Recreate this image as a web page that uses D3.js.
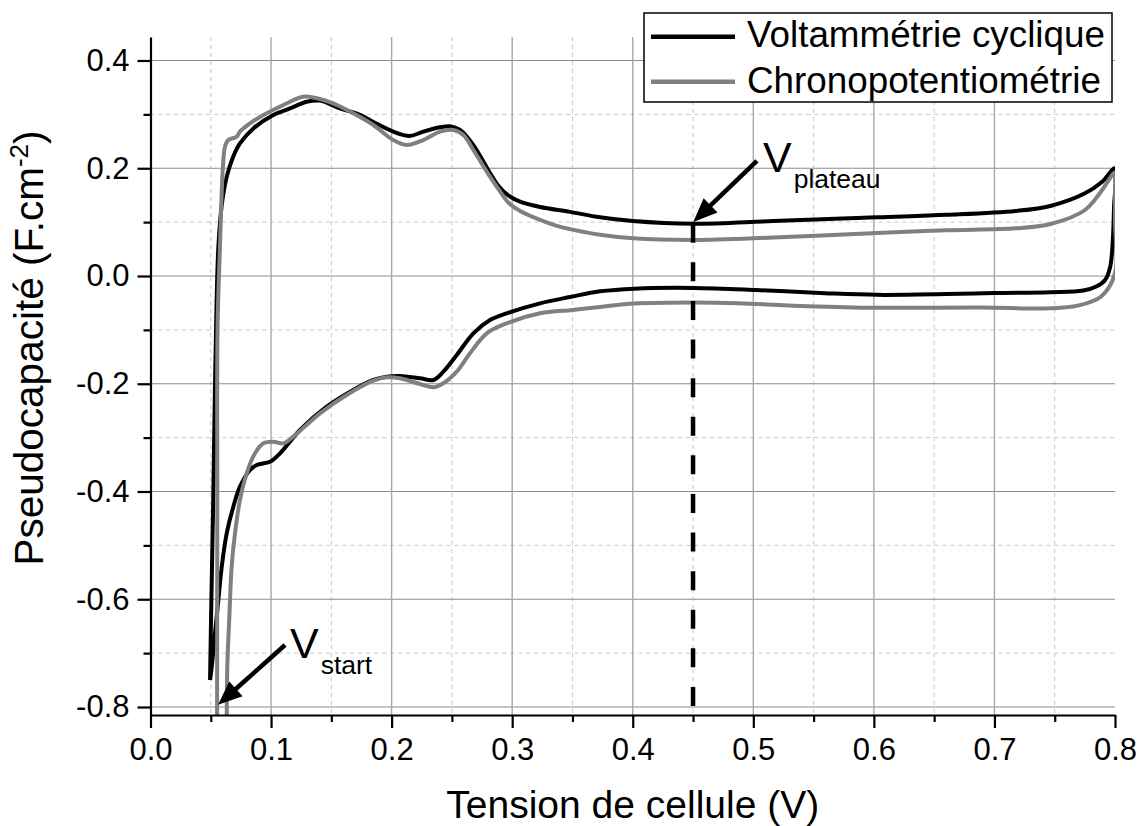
<!DOCTYPE html>
<html><head><meta charset="utf-8">
<script src="https://cdn.jsdelivr.net/npm/d3@7"></script>
<style>
body{margin:0;background:#fff}
svg{display:block}
text{font-family:"Liberation Sans",Arial,Helvetica,sans-serif;fill:#000}
</style>
</head><body>
<svg id="chart" width="1143" height="826"></svg>
<script>
// ---------- data ----------
const xMajorTicks = [0, 0.1, 0.2, 0.3, 0.4, 0.5, 0.6, 0.7, 0.8];
const xTickLabels = ["0.0","0.1","0.2","0.3","0.4","0.5","0.6","0.7","0.8"];
const xMinorTicks = [0.05, 0.15, 0.25, 0.35, 0.45, 0.55, 0.65, 0.75];
const yMajorTicks = [-0.8, -0.6, -0.4, -0.2, 0, 0.2, 0.4];
const yTickLabels = ["-0.8","-0.6","-0.4","-0.2","0.0","0.2","0.4"];
const yMinorTicks = [-0.7, -0.5, -0.3, -0.1, 0.1, 0.3];

const seriesNames = ["Voltammétrie cyclique", "Chronopotentiométrie"];

// Voltammétrie cyclique loop: [tension (V), pseudocapacité (F.cm-2)]
const cvLoop = [
 [0.0494,-0.750],[0.0505,-0.600],[0.0520,-0.420],[0.0535,-0.200],[0.0548,-0.050],
 [0.0563,0.054],[0.0590,0.130],[0.0632,0.184],[0.0685,0.221],[0.0742,0.246],
 [0.0853,0.274],[0.1019,0.299],[0.1157,0.311],[0.1295,0.3235],[0.1405,0.3255],
 [0.1572,0.311],[0.1738,0.299],[0.1848,0.286],[0.2014,0.268],[0.2152,0.260],
 [0.2263,0.268],[0.2401,0.276],[0.2484,0.278],[0.2567,0.271],[0.2678,0.243],
 [0.2816,0.191],[0.2890,0.166],[0.2970,0.149],[0.3065,0.138],[0.3231,0.128],
 [0.3480,0.119],[0.3728,0.109],[0.4000,0.102],[0.4504,0.097],[0.5165,0.1020],
 [0.6027,0.109],[0.6602,0.1135],[0.7176,0.1207],[0.7464,0.130],[0.7751,0.1535],
 [0.7894,0.175],[0.8000,0.1999],
 [0.7992,0.129],[0.7982,0.067],[0.7960,0.017],[0.7918,-0.0074],[0.7849,-0.019],
 [0.7737,-0.027],[0.7460,-0.030],[0.7000,-0.0315],[0.6602,-0.0335],[0.6027,-0.0350],
 [0.5595,-0.032],[0.5022,-0.026],[0.4504,-0.0222],[0.4015,-0.0235],[0.3728,-0.0285],
 [0.3480,-0.039],[0.3231,-0.0507],[0.2954,-0.0693],[0.2816,-0.0817],[0.2678,-0.1064],
 [0.2540,-0.1466],[0.2429,-0.1776],[0.2346,-0.193],[0.2235,-0.1899],[0.2069,-0.1856],
 [0.1959,-0.1869],[0.1848,-0.193],[0.1682,-0.2116],[0.1462,-0.2426],[0.1240,-0.2858],
 [0.1074,-0.3291],[0.0991,-0.3447],[0.0881,-0.3508],[0.0825,-0.3601],[0.0742,-0.3911],
 [0.0687,-0.4282],[0.0632,-0.4776],[0.0591,-0.5396],[0.0563,-0.6014],[0.0535,-0.6632],
 [0.0508,-0.7252],[0.0494,-0.750]
];

// Chronopotentiométrie loop
const cpLoop = [
 [0.0552,-0.860],[0.0554,-0.420],[0.0556,-0.100],[0.0576,0.054],[0.0600,0.200],
 [0.0618,0.240],[0.0645,0.2524],[0.0715,0.2586],[0.0742,0.268],[0.0825,0.2834],
 [0.0964,0.302],[0.1102,0.3174],[0.1267,0.3328],[0.1379,0.3298],[0.1516,0.3206],
 [0.1682,0.302],[0.1848,0.2803],[0.2014,0.2524],[0.2125,0.2432],[0.2263,0.2524],
 [0.2401,0.268],[0.2512,0.271],[0.2595,0.2617],[0.2678,0.2339],[0.2816,0.1843],
 [0.2890,0.160],[0.2970,0.136],[0.3070,0.120],[0.3231,0.104],[0.3370,0.093],
 [0.3500,0.086],[0.3728,0.0765],[0.4000,0.070],[0.4504,0.0668],[0.5165,0.0715],
 [0.6027,0.0800],[0.6602,0.0850],[0.7176,0.0885],[0.7464,0.0965],[0.7751,0.1225],
 [0.7949,0.178],[0.7986,0.190],[0.8000,0.100],
 [0.8000,0.005],[0.7885,-0.038],[0.7690,-0.055],[0.7460,-0.060],[0.6889,-0.0585],
 [0.6027,-0.059],[0.5452,-0.056],[0.4878,-0.0505],[0.4504,-0.049],[0.4015,-0.0510],
 [0.3728,-0.0575],[0.3500,-0.063],[0.3231,-0.0693],[0.2954,-0.0879],[0.2789,-0.1064],
 [0.2650,-0.1435],[0.2540,-0.1776],[0.2429,-0.1992],[0.2346,-0.2066],[0.2235,-0.2005],
 [0.2069,-0.1899],[0.1959,-0.188],[0.1848,-0.1943],[0.1627,-0.2209],[0.1406,-0.2549],
 [0.1184,-0.2983],[0.1102,-0.3106],[0.1019,-0.3075],[0.0936,-0.3106],[0.0867,-0.3291],
 [0.0798,-0.3662],[0.0742,-0.4158],[0.0701,-0.4776],[0.0673,-0.5396],[0.0654,-0.6324],
 [0.0637,-0.7252],[0.0632,-0.860]
];

// V plateau marker (dashed line)
const plateauV = 0.45;
const plateauRange = [0.097, -0.8];

// annotations: label, subscript, arrow tail, arrow tip, text anchor (data units)
const annoLabels = ["V", "V"];
const annoSubs = ["plateau", "start"];
const annoTails = [[0.503, 0.2135], [0.1116, -0.685]];
const annoTips = [[0.4502, 0.1002], [0.0560, -0.796]];
const annoText = [[0.508, 0.193], [0.1157, -0.709]];

// ---------- layout ----------
const plotLeft = 150.5, plotRight = 1115, plotTop = 37, plotBottom = 715;
const svg = d3.select("#chart");
const x = d3.scaleLinear().domain([0, 0.8]).range([plotLeft, plotRight]);
const y = d3.scaleLinear().domain([-0.8, 0.4]).range([707, 60.5]);

const fontFam = "'Liberation Sans',Arial,Helvetica,sans-serif";

svg.append("defs").append("clipPath").attr("id","plotclip")
  .append("rect").attr("x",plotLeft).attr("y",plotTop).attr("width",plotRight-plotLeft).attr("height",plotBottom-plotTop);

// grid
const grid = svg.append("g");
grid.selectAll(".hmin").data(yMinorTicks).join("line")
  .attr("x1",plotLeft).attr("x2",plotRight).attr("y1",d=>y(d)).attr("y2",d=>y(d))
  .attr("stroke","#c8c8c8").attr("stroke-width",1).attr("stroke-dasharray","4,4");
grid.selectAll(".vmin").data(xMinorTicks).join("line")
  .attr("x1",d=>x(d)).attr("x2",d=>x(d)).attr("y1",plotTop).attr("y2",plotBottom)
  .attr("stroke","#c8c8c8").attr("stroke-width",1).attr("stroke-dasharray","4,4");
grid.selectAll(".hmaj").data(yMajorTicks).join("line")
  .attr("x1",plotLeft).attr("x2",plotRight).attr("y1",d=>y(d)).attr("y2",d=>y(d))
  .attr("stroke","#8c8c8c").attr("stroke-width",1.2);
grid.selectAll(".vmaj").data(xMajorTicks.filter(d=>d>0 && d<0.8)).join("line")
  .attr("x1",d=>x(d)).attr("x2",d=>x(d)).attr("y1",plotTop).attr("y2",plotBottom)
  .attr("stroke","#a8a8a8").attr("stroke-width",1.4);

// curves
const line = d3.line().x(d=>x(d[0])).y(d=>y(d[1])).curve(d3.curveCatmullRom.alpha(0.5));
const plot = svg.append("g").attr("clip-path","url(#plotclip)");
plot.append("path").datum(cvLoop).attr("d",line)
  .attr("fill","none").attr("stroke","#000").attr("stroke-width",4).attr("stroke-linejoin","round");
plot.append("path").datum(cpLoop).attr("d",line)
  .attr("fill","none").attr("stroke","#808080").attr("stroke-width",4).attr("stroke-linejoin","round");

// plateau dashed line
svg.append("line")
  .attr("x1",x(plateauV)).attr("x2",x(plateauV))
  .attr("y1",y(plateauRange[0])).attr("y2",y(plateauRange[1]))
  .attr("stroke","#000").attr("stroke-width",4.5).attr("stroke-dasharray","19,19.6");

// axes
const yAxisScale = d3.scaleLinear().domain([y.invert(plotBottom), y.invert(plotTop)]).range([plotBottom, plotTop]);

svg.append("g").attr("transform",`translate(${plotLeft},0)`)
  .call(d3.axisLeft(yAxisScale).tickValues(yMajorTicks).tickSize(13).tickSizeOuter(0).tickPadding(8)
    .tickFormat((d,i)=>yTickLabels[i]));
svg.append("g").attr("transform",`translate(${plotLeft},0)`)
  .call(d3.axisLeft(yAxisScale).tickValues(yMinorTicks).tickSize(7).tickSizeOuter(0).tickFormat(""))
  .call(g=>g.select(".domain").remove());

svg.append("g").attr("transform",`translate(0,${plotBottom})`)
  .call(d3.axisBottom(x).tickValues(xMajorTicks).tickSize(13).tickSizeOuter(0).tickPadding(10)
    .tickFormat((d,i)=>xTickLabels[i]));
svg.append("g").attr("transform",`translate(0,${plotBottom})`)
  .call(d3.axisBottom(x).tickValues(xMinorTicks).tickSize(7).tickSizeOuter(0).tickFormat(""))
  .call(g=>g.select(".domain").remove());

svg.selectAll(".domain").attr("stroke","#000").attr("stroke-width",2.2);
svg.selectAll(".tick line").attr("stroke","#000").attr("stroke-width",2.2);
svg.selectAll(".tick text").attr("font-family",fontFam).attr("font-size",31).attr("fill","#000");

// axis titles
svg.append("text").attr("x",(plotLeft+plotRight)/2).attr("y",818).attr("text-anchor","middle")
  .attr("font-size",39).text("Tension de cellule (V)");
const yt = svg.append("text").attr("transform","translate(43,348) rotate(-90)")
  .attr("text-anchor","middle").attr("font-size",40.5);
yt.append("tspan").text("Pseudocapacité (F.cm");
yt.append("tspan").attr("font-size",26).attr("dy",-15).text("-2");
yt.append("tspan").attr("dy",15).text(")");

// annotations
annoLabels.forEach((lab,i)=>{
  const tx = x(annoTails[i][0]), ty = y(annoTails[i][1]);
  const hx = x(annoTips[i][0]), hy = y(annoTips[i][1]);
  const ang = Math.atan2(hy-ty, hx-tx);
  const hl = 24, hw = 10;
  const bx = hx - hl*Math.cos(ang), by = hy - hl*Math.sin(ang);
  svg.append("line").attr("x1",tx).attr("y1",ty).attr("x2",bx+4*Math.cos(ang)).attr("y2",by+4*Math.sin(ang))
    .attr("stroke","#000").attr("stroke-width",4.5);
  const px = -Math.sin(ang), py = Math.cos(ang);
  svg.append("polygon").attr("points",
    `${hx},${hy} ${bx+hw*px},${by+hw*py} ${bx-hw*px},${by-hw*py}`).attr("fill","#000");
  const t = svg.append("text").attr("x",x(annoText[i][0])).attr("y",y(annoText[i][1]))
    .attr("font-size",43);
  t.append("tspan").text(lab);
  t.append("tspan").attr("font-size",26.5).attr("dx",2).attr("dy",16).text(annoSubs[i]);
});

// legend
const lg = svg.append("g");
lg.append("rect").attr("x",644).attr("y",13).attr("width",468).attr("height",89)
  .attr("fill","#fff").attr("stroke","#000").attr("stroke-width",1.5);
const legendColors = ["#000","#808080"];
seriesNames.forEach((name,i)=>{
  const yy = 36.7 + i*45;
  lg.append("line").attr("x1",651).attr("x2",735).attr("y1",yy).attr("y2",yy)
    .attr("stroke",legendColors[i]).attr("stroke-width",4.5);
  lg.append("text").attr("x",747).attr("y",47 + i*46).attr("font-size",36.8).text(name);
});
</script>
</body></html>
